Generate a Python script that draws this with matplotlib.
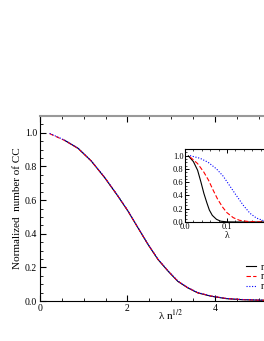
import numpy as np
import matplotlib.pyplot as plt
from matplotlib.ticker import MultipleLocator

# main panel: normalized number of CC vs lambda * n^(1/2)
x_main = [0.22, 0.56, 0.87, 1.17, 1.48, 1.78, 2.01, 2.24, 2.47, 2.70, 2.93, 3.15, 3.38, 3.61, 3.92, 4.26, 4.60, 5.00, 5.50, 6.00]
y_black = [0.996, 0.956, 0.908, 0.833, 0.733, 0.624, 0.535, 0.435, 0.336, 0.246, 0.177, 0.117, 0.078, 0.048, 0.028, 0.014, 0.008, 0.005, 0.003, 0.002]
y_red = [0.995, 0.955, 0.907, 0.833, 0.734, 0.625, 0.536, 0.436, 0.337, 0.247, 0.178, 0.118, 0.079, 0.049, 0.029, 0.015, 0.009, 0.005, 0.003, 0.002]
y_blue = [0.997, 0.957, 0.909, 0.834, 0.735, 0.626, 0.537, 0.437, 0.338, 0.248, 0.179, 0.119, 0.080, 0.050, 0.029, 0.015, 0.009, 0.006, 0.003, 0.002]
labels = ['n = 2500', 'n = 1000', 'n = 400']

# inset: normalized number of CC vs lambda
lx_black = [0.008, 0.020, 0.030, 0.038, 0.045, 0.052, 0.058, 0.065, 0.075, 0.085, 0.100, 0.130, 0.200]
ly_black = [0.997, 0.910, 0.780, 0.600, 0.430, 0.290, 0.180, 0.100, 0.040, 0.012, 0.002, 0.0, 0.0]
lx_red = [0.012, 0.030, 0.045, 0.056, 0.067, 0.078, 0.090, 0.100, 0.115, 0.130, 0.150, 0.175, 0.200]
ly_red = [0.980, 0.880, 0.750, 0.630, 0.480, 0.340, 0.220, 0.140, 0.065, 0.025, 0.008, 0.002, 0.0]
lx_blue = [0.012, 0.036, 0.055, 0.075, 0.091, 0.105, 0.120, 0.139, 0.155, 0.170, 0.187, 0.200]
ly_blue = [1.000, 0.960, 0.900, 0.800, 0.690, 0.560, 0.420, 0.250, 0.130, 0.060, 0.020, 0.010]

plt.rcParams['font.family'] = 'Liberation Serif'
plt.rcParams['mathtext.fontset'] = 'stix'

fig = plt.figure(figsize=(2.64, 3.41), dpi=100)
ax = fig.add_axes([0.1515, 0.1173, 0.994, 0.5425])

ax.plot(x_main[1:], y_black[1:], color='black', lw=0.8, ls='-', label=labels[0])
ax.plot(x_main, y_red, color='red', lw=0.8, ls=(0, (4, 2)), label=labels[1])
ax.plot(x_main, y_blue, color='blue', lw=0.8, ls=(0, (1, 1.5)), label=labels[2])

ax.set_xlim(0, 6)
ax.set_ylim(0, 1.1)
ax.xaxis.set_major_locator(MultipleLocator(2))
ax.xaxis.set_minor_locator(MultipleLocator(0.5))
ax.yaxis.set_major_locator(MultipleLocator(0.2))
ax.yaxis.set_minor_locator(MultipleLocator(0.05))
ax.yaxis.set_major_formatter(plt.FormatStrFormatter('%.1f'))
ax.tick_params(which='both', direction='in', top=True, right=True, labelsize=7, pad=2)
ax.tick_params(which='major', length=4, width=0.8)
ax.tick_params(which='minor', length=2, width=0.6)
ax.spines['top'].set_color('#999999')
ax.spines['top'].set_linewidth(1.5)
ax.set_xlabel(r'λ n$^{1/2}$', fontsize=8, labelpad=-4)
ax.set_ylabel('Normalized  number of CC', fontsize=8, labelpad=2)

ax.legend(loc='lower left', bbox_to_anchor=(0.913, 0.131), bbox_transform=fig.transFigure,
          frameon=False, fontsize=7, handlelength=1.0, labelspacing=0.1, handletextpad=0.6,
          borderpad=0)

ins = fig.add_axes([0.7008, 0.349, 0.318, 0.214])
ins.plot(lx_black, ly_black, color='black', lw=0.8, ls='-')
ins.plot(lx_red, ly_red, color='red', lw=0.8, ls=(0, (4, 2)))
ins.plot(lx_blue, ly_blue, color='blue', lw=0.8, ls=(0, (1, 1.5)))
ins.set_xlim(0, 0.2)
ins.set_ylim(0, 1.1)
ins.xaxis.set_major_locator(MultipleLocator(0.1))
ins.xaxis.set_minor_locator(MultipleLocator(0.02))
ins.yaxis.set_major_locator(MultipleLocator(0.2))
ins.yaxis.set_minor_locator(MultipleLocator(0.05))
ins.yaxis.set_major_formatter(plt.FormatStrFormatter('%.1f'))
ins.xaxis.set_major_formatter(plt.FormatStrFormatter('%.1f'))
ins.tick_params(which='both', direction='in', top=True, right=True, labelsize=6, pad=1)
ins.tick_params(which='major', length=3, width=0.7)
ins.tick_params(which='minor', length=1.5, width=0.5)
ins.set_xlabel('λ', fontsize=7, labelpad=0)

plt.savefig('out.png', dpi=100)
